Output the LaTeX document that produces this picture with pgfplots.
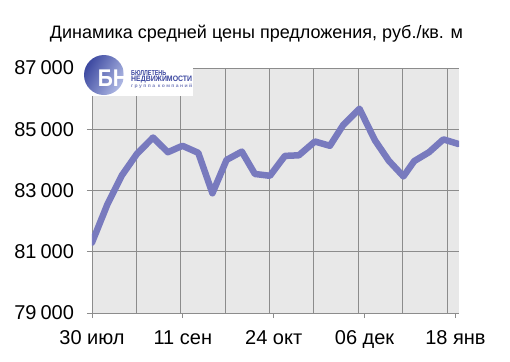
\documentclass[border=0pt]{standalone}
\usepackage{fontspec}
\setmainfont{Liberation Sans}
\usepackage{graphicx}
\usepackage{pgfplots}
\pgfplotsset{compat=1.18}
\usetikzlibrary{shadings}
\definecolor{linec}{RGB}{120,122,190}
\definecolor{gridc}{RGB}{140,140,140}
\definecolor{bgc}{RGB}{232,232,232}
\definecolor{logob}{RGB}{60,72,160}
\definecolor{logol}{RGB}{175,185,228}
\pgfplotstableread{
day price
0 81300
7.3 82550
14.2 83500
21.3 84200
28.9 84730
35.9 84250
42.8 84460
50.3 84230
57.0 82910
63.7 84000
70.9 84270
77.1 83540
84.2 83480
91.3 84130
97.9 84150
105.5 84600
112.6 84460
118.9 85140
126.6 85670
133.9 84640
140.5 83970
147.4 83460
152.5 83960
159.5 84250
166.3 84670
173.4 84520
}\pricedata
\newcommand{\ts}{\hspace{4pt}}
\begin{document}
\begin{tikzpicture}
\begin{axis}[name=ax, scale only axis, width=367pt, height=245pt,
 xmin=0, xmax=173.7, ymin=79000, ymax=87000,
 scaled y ticks=false,
 axis lines=left, axis line style={-, draw=gridc, line width=0.8pt},
 axis background/.style={fill=bgc},
 xtick={0,43,86,129,172}, xticklabels={30 июл, 11 сен, 24 окт, 06 дек, 18 янв},
 ytick={79000,81000,83000,85000,87000}, yticklabels={79\ts000,81\ts000,83\ts000,85\ts000,87\ts000},
 tick style={draw=gridc, line width=0.8pt}, tick align=outside, major tick length=5pt,
 ymajorgrids, grid style={draw=gridc, line width=0.8pt},
 extra x ticks={21,42,63,84,105,126,147,168}, extra x tick labels={},
 extra x tick style={grid=major, major tick length=0pt},
 ticklabel style={font=\fontsize{20}{24}\selectfont},
 xticklabel style={yshift=-9pt}, yticklabel style={xshift=-9.5pt},
 clip=true]
\addplot[linec, line width=6.5pt, line join=round, line cap=round] table[x=day, y=price] {\pricedata};
\end{axis}
\node[font=\fontsize{18}{21}\selectfont] at ([shift={(-19pt,34.5pt)}]ax.north) {Динамика средней цены предложения, руб./кв. м};
% logo
\fill[white] ([shift={(-12pt,12pt)}]ax.north west) rectangle ([shift={(101pt,-28pt)}]ax.north west);
\shade[left color=logob, right color=logol, shading angle=60] ([shift={(12pt,-7pt)}]ax.north west) circle (20pt);
\node[white, font=\bfseries\fontsize{21}{21}\selectfont, yscale=1.15] at ([shift={(21pt,-10pt)}]ax.north west) {БН};
\node[anchor=north west, inner sep=0, text=logob] at ([shift={(39pt,-2pt)}]ax.north west) {\resizebox{35pt}{5pt}{\bfseries БЮЛЛЕТЕНЬ}};
\node[anchor=north west, inner sep=0, text=logob] at ([shift={(39pt,-8pt)}]ax.north west) {\resizebox{61pt}{5.5pt}{\bfseries НЕДВИЖИМОСТИ}};
\node[anchor=north west, inner sep=0, text=logob!70] at ([shift={(39pt,-16pt)}]ax.north west) {\resizebox{61pt}{3.5pt}{\bfseries г р у п п а\ \ к о м п а н и й}};
\pgfresetboundingbox
\path[use as bounding box] ([shift={(-92pt,-48pt)}]ax.south west) rectangle ([shift={(51pt,68pt)}]ax.north east);
\end{tikzpicture}
\end{document}
